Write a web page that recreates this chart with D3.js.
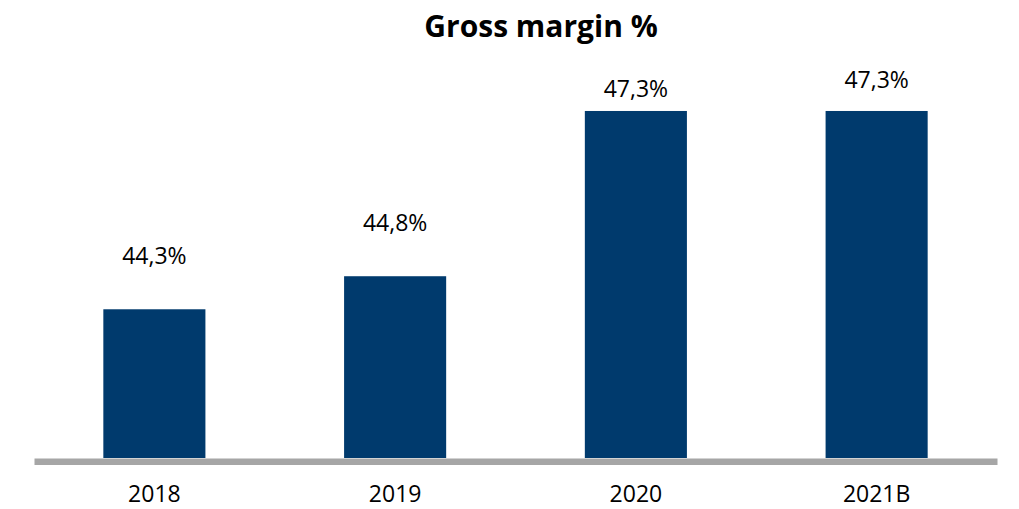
<!DOCTYPE html>
<html>
<head>
<meta charset="utf-8">
<script src="https://cdn.jsdelivr.net/npm/d3@7"></script>
<style>
  body { margin: 0; background: #fff; }
  text { font-family: "Open Sans", "Noto Sans", sans-serif; fill: #000; }
</style>
</head>
<body>
<div id="chart"></div>
<script>
// Chart data
const years = ["2018", "2019", "2020", "2021B"];
const margins = [44.3, 44.8, 47.3, 47.3];
const valueLabels = ["44,3%", "44,8%", "47,3%", "47,3%"];

// gap between bar top and label baseline (labels were placed by hand in the original)
const labelGap = [45, 45, 14, 23];

const svgWidth = 1019;
const svgHeight = 509;
const baseline = 458;

const svg = d3.select("#chart")
              .append("svg")
              .attr("width", svgWidth)
              .attr("height", svgHeight);

const x = d3.scaleBand()
            .domain(years)
            .range([34, 997])
            .paddingInner(0.576)
            .paddingOuter(0.288);

const y = d3.scaleLinear()
            .domain([42.05, 48])
            .range([baseline, baseline - 5.95 * 66.1]);

svg.append("text")
   .attr("x", 541)
   .attr("y", 37)
   .attr("text-anchor", "middle")
   .style("font-size", "30px")
   .style("font-weight", "bold")
   .text("Gross margin %");

svg.append("g")
   .selectAll("rect")
   .data(margins)
   .join("rect")
   .attr("x", (d, i) => x(years[i]))
   .attr("y", d => y(d))
   .attr("width", x.bandwidth())
   .attr("height", d => baseline - y(d))
   .attr("fill", "#003a6d");

svg.append("g")
   .selectAll("text")
   .data(margins)
   .join("text")
   .attr("x", (d, i) => x(years[i]) + x.bandwidth() / 2)
   .attr("y", (d, i) => y(d) - labelGap[i])
   .attr("text-anchor", "middle")
   .style("font-size", "23px")
   .text((d, i) => valueLabels[i]);

// axis: thick grey line, no ticks
const axis = svg.append("g")
   .attr("transform", `translate(0,${baseline})`)
   .call(d3.axisBottom(x).tickSize(0).tickPadding(28));

axis.select(".domain")
    .attr("stroke", "#a6a6a6")
    .attr("stroke-width", 6.5)
    .attr("transform", "translate(0,3.3)");

axis.selectAll("text")
    .style("font-size", "23px")
    .style("font-family", "'Open Sans', 'Noto Sans', sans-serif")
    .attr("fill", "#000");
</script>
</body>
</html>
